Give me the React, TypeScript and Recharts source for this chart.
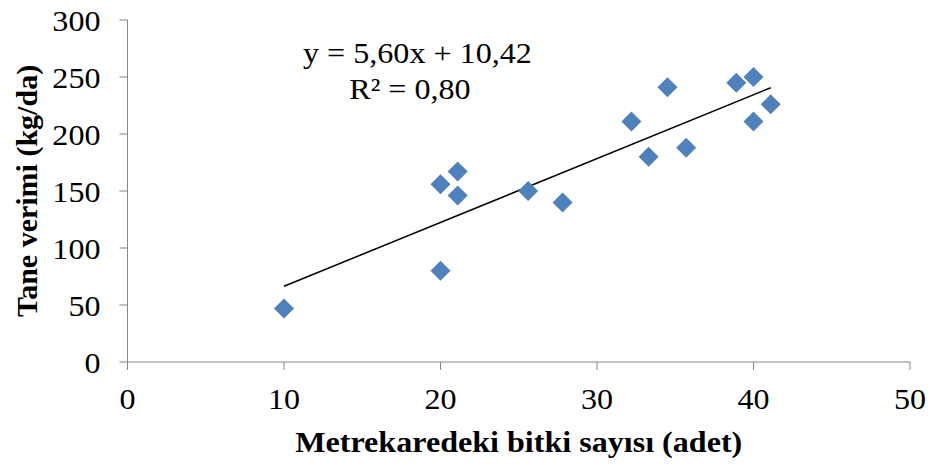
import React from "react";
import {
  ScatterChart,
  Scatter,
  XAxis,
  YAxis,
  ReferenceLine,
} from "recharts";

// bitki sayısı (adet/m²) vs tane verimi (kg/da)
const plantCounts = [10, 20, 20, 21.1, 21.1, 25.6, 27.8, 32.2, 33.3, 34.5, 35.7, 38.9, 40, 40, 41.1];
const grainYields = [47, 80, 156, 146, 167, 150, 140, 211, 180, 241, 188, 245, 250, 211, 226];

const xTicks = [0, 10, 20, 30, 40, 50];
const yTicks = [0, 50, 100, 150, 200, 250, 300];

// trend line from the Excel fit
const slope = 5.6;
const intercept = 10.42;
const equationText = "y = 5,60x + 10,42";
const r2Text = "R² = 0,80";

const points = plantCounts.map((x, i) => ({ x, y: grainYields[i] }));
const xMin = Math.min(...plantCounts);
const xMax = Math.max(...plantCounts);

const FONT = "'Liberation Serif', 'Times New Roman', serif";
const AXIS = "#868686";
const BLUE = "#4F81BD";
const FS = 30;
const STRETCH = 1.07; // the source picture is a bit wider than tall

const Diamond = (props: any) => {
  const { cx, cy } = props;
  const r = 10;
  return (
    <polygon
      points={`${cx},${cy - r} ${cx + r},${cy} ${cx},${cy + r} ${cx - r},${cy}`}
      fill={BLUE}
    />
  );
};

const XTick = ({ x, y, payload }: any) => (
  <text
    transform={`translate(${x},${y}) scale(${STRETCH},1)`}
    textAnchor="middle"
    dy="0.71em"
    fontSize={FS}
    fontFamily={FONT}
    fill="#000"
  >
    {payload.value}
  </text>
);

const YTick = ({ x, y, payload }: any) => (
  <text
    transform={`translate(${x},${y}) scale(${STRETCH},1)`}
    textAnchor="end"
    dy="0.355em"
    fontSize={FS}
    fontFamily={FONT}
    fill="#000"
  >
    {payload.value}
  </text>
);

const XLabel = ({ viewBox }: any) => (
  <text
    transform={`translate(${viewBox.x + viewBox.width / 2},${viewBox.y + viewBox.height - 15}) scale(${STRETCH},1)`}
    textAnchor="middle"
    fontSize={FS}
    fontWeight="bold"
    fontFamily={FONT}
    fill="#000"
  >
    Metrekaredeki bitki sayısı (adet)
  </text>
);

const YLabel = ({ viewBox }: any) => (
  <text
    transform={`translate(37,${viewBox.y + viewBox.height / 2}) rotate(-90)`}
    textAnchor="middle"
    fontSize={FS}
    fontWeight="bold"
    fontFamily={FONT}
    fill="#000"
  >
    Tane verimi (kg/da)
  </text>
);

export default function App() {
  return (
    <div style={{ position: "absolute", left: 0, top: 0, width: 936, height: 467, background: "#fff" }}>
      <ScatterChart
        width={936}
        height={467}
        margin={{ top: 20, right: 26, left: 0, bottom: 0 }}
      >
        <XAxis
          type="number"
          dataKey="x"
          domain={[0, 50]}
          ticks={xTicks}
          height={105}
          stroke={AXIS}
          tickSize={8}
          tickMargin={18}
          tick={<XTick />}
          label={<XLabel />}
        />
        <YAxis
          type="number"
          dataKey="y"
          domain={[0, 300]}
          ticks={yTicks}
          width={127.5}
          stroke={AXIS}
          tickSize={8}
          tickMargin={19}
          tick={<YTick />}
          label={<YLabel />}
        />
        <ReferenceLine
          segment={[
            { x: xMin, y: slope * xMin + intercept },
            { x: xMax, y: slope * xMax + intercept },
          ]}
          stroke="#000"
          strokeWidth={1.5}
          ifOverflow="visible"
        />
        <Scatter data={points} fill={BLUE} shape={Diamond} isAnimationActive={false} />
      </ScatterChart>
      <div
        style={{
          position: "absolute",
          left: 310,
          top: 35,
          width: 200,
          textAlign: "center",
          fontFamily: FONT,
          fontSize: FS,
          lineHeight: "36px",
          color: "#000",
          whiteSpace: "nowrap",
          transform: `scaleX(${STRETCH})`,
          transformOrigin: "center",
        }}
      >
        <div>{equationText}</div>
        <div>{r2Text}</div>
      </div>
    </div>
  );
}
